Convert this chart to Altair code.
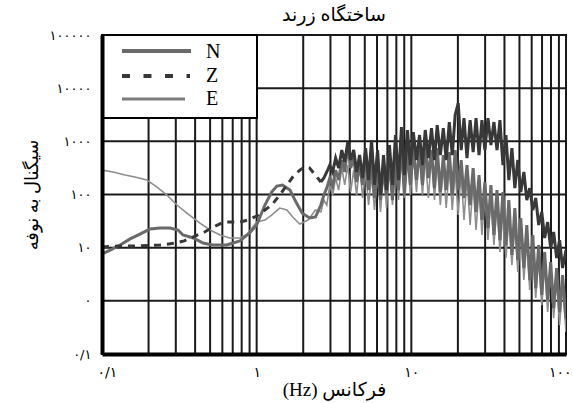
import altair as alt
import pandas as pd

title_text = "ساختگاه زرند"
x_title = "(Hz) فرکانس"
y_title = "سیگنال به نوفه"

# tick values and their (Persian) labels
x_tick_values = [0.1, 1, 10, 100]
x_tick_labels = ["۰/۱", "۱", "۱۰", "۱۰۰"]
y_tick_values = [0.1, 1, 10, 100, 1000, 10000, 100000]
y_tick_labels = ["۰/۱", "۰", "۱۰", "۱۰۰", "۱۰۰۰", "۱۰۰۰۰", "۱۰۰۰۰۰"]

# grid lines
x_grid = [0.1, 0.2, 0.3, 0.4, 0.5, 0.6, 0.7, 0.8, 0.9,
          1, 2, 3, 4, 5, 6, 7, 8, 9,
          10, 20, 30, 40, 50, 60, 70, 80, 90, 100]
y_grid = [0.1, 1, 10, 100, 1000, 10000, 100000]

# low-frequency parts of the three components
freq_N_low = [0.1, 0.113, 0.131, 0.152, 0.176, 0.204, 0.237, 0.275, 0.31, 0.334,
              0.39, 0.45, 0.52, 0.64, 0.78, 0.90, 1.0, 1.13, 1.25, 1.35,
              1.47, 1.64, 1.81, 1.97, 2.2, 2.4]
val_N_low = [7.6, 9.0, 11.2, 14.6, 18.0, 22.4, 23.4, 23.4, 21.5, 17.3,
             15.2, 12.2, 11.2, 11.2, 13.4, 18.9, 26.7, 63.4, 111, 144,
             151, 121, 69, 44.6, 36.1, 37.7]

freq_E_low = [0.1, 0.118, 0.141, 0.163, 0.195, 0.227, 0.263, 0.305, 0.354, 0.43,
              0.50, 0.58, 0.67, 0.78, 0.87, 1.0, 1.13, 1.25, 1.41, 1.57,
              1.71, 1.9, 2.15, 2.4]
val_E_low = [288, 265, 232, 213, 187, 138, 97.7, 63.4, 44.8, 29,
             21.5, 17.3, 15.2, 15.2, 18.0, 30.3, 33.1, 41.1, 55.6, 51.0,
             37.7, 27.9, 33.1, 51.0]

freq_Z_low = [0.1, 0.131, 0.176, 0.237, 0.30, 0.34, 0.40, 0.46, 0.54, 0.61,
              0.69, 0.78, 0.88, 1.0, 1.13, 1.25, 1.41, 1.57, 1.71, 1.9,
              2.05, 2.2, 2.4]
val_Z_low = [10.3, 10.8, 10.8, 11.2, 12.2, 13.4, 16.5, 19.7, 25.5, 30.3,
             30.3, 30.3, 33.1, 39.3, 51.0, 63.4, 97.7, 151, 213, 288,
             329, 315, 232]

# high-frequency (noisy) parts, shared frequency samples
freq_hi = [2.6, 2.72, 2.84, 2.97, 3.1, 3.24, 3.39, 3.55, 3.71, 3.88,
           4.05, 4.24, 4.43, 4.63, 4.84, 5.06, 5.29, 5.53, 5.78, 6.05,
           6.32, 6.61, 6.91, 7.22, 7.55, 7.9, 8.26, 8.63, 9.02, 9.43,
           9.86, 10.3, 10.8, 11.3, 11.8, 12.3, 12.9, 13.5, 14.1, 14.7,
           15.4, 16.1, 16.8, 17.6, 18.4, 19.2, 20.1, 21.0, 21.9, 22.9,
           24.0, 25.1, 26.2, 27.4, 28.6, 29.9, 31.3, 32.7, 34.2, 35.8,
           37.4, 39.1, 40.9, 42.7, 44.7, 46.7, 48.8, 51.0, 53.4, 55.8,
           58.3, 61.0, 63.7, 66.6, 69.7, 72.8, 76.1, 79.6, 83.2, 87.0,
           90.9, 95.0, 100]
val_N_hi = [63.4, 97.7, 132, 204, 144, 288, 187, 445, 265, 852,
            315, 485, 172, 358, 151, 629, 121, 445, 85.8, 265,
            78.7, 315, 97.7, 445, 78.7, 552, 121, 852, 97.7, 686,
            151, 748, 187, 686, 151, 970, 204, 686, 132, 748,
            111, 552, 121, 629, 97.7, 686, 121, 445, 85.8, 358,
            63.4, 315, 46.8, 232, 33.1, 172, 23.4, 151, 17.3, 121,
            13.9, 111, 11.2, 78.7, 7.3, 55.6, 5.85, 36.1, 4.14, 26.7,
            2.46, 17.3, 1.74, 11.2, 1.29, 8.3, 1.04, 5.37, 0.73, 4.14,
            0.62, 3.06, 0.47]
val_E_hi = [46.8, 78.7, 63.4, 151, 97.7, 204, 121, 315, 151, 358,
            111, 288, 97.7, 408, 85.8, 288, 63.4, 232, 51.0, 265,
            46.8, 288, 55.6, 358, 63.4, 445, 78.7, 552, 85.8, 629,
            97.7, 552, 111, 686, 97.7, 485, 85.8, 552, 78.7, 408,
            63.4, 358, 55.6, 315, 51.0, 288, 41.1, 265, 33.1, 204,
            26.7, 172, 21.5, 132, 17.3, 97.7, 13.9, 85.8, 11.2, 63.4,
            8.3, 51.0, 6.4, 36.1, 4.71, 26.7, 3.48, 19.7, 2.46, 13.9,
            1.60, 9.0, 1.13, 6.4, 0.83, 4.71, 0.62, 3.48, 0.47, 2.46,
            0.35, 1.98, 0.26]
val_Z_hi = [172, 204, 265, 358, 265, 485, 315, 686, 408, 970,
            445, 686, 265, 552, 204, 748, 187, 1057, 151, 686,
            97.7, 552, 121, 852, 151, 1313, 187, 1857, 232, 1631,
            358, 1495, 445, 1313, 358, 1631, 485, 1778, 445, 2025,
            552, 1778, 445, 2306, 552, 3122, 5252, 686, 2742, 485,
            2515, 629, 2742, 552, 2515, 686, 2742, 852, 2306, 686,
            2515, 358, 1313, 187, 748, 132, 445, 111, 265, 78.7,
            132, 51.0, 85.8, 26.7, 46.8, 15.2, 30.3, 9.8, 19.7, 6.4,
            13.9, 4.14, 9.0]

colors = {"N": "#6a6a6a", "Z": "#383838", "E": "#8e8e8e"}

df_N = pd.DataFrame({"f": freq_N_low + freq_hi, "v": val_N_low + val_N_hi})
df_E = pd.DataFrame({"f": freq_E_low + freq_hi, "v": val_E_low + val_E_hi})
df_Z_low = pd.DataFrame({"f": freq_Z_low + freq_hi[:1], "v": val_Z_low + val_Z_hi[:1]})
df_Z_hi = pd.DataFrame({"f": freq_hi, "v": val_Z_hi})

xscale = alt.Scale(type="log", domain=[0.1, 100], nice=False)
yscale = alt.Scale(type="log", domain=[0.1, 100000], nice=False)

def expr_for(labels):
    arr = "[" + ",".join("'" + s + "'" for s in labels) + "]"
    return arr + "[round(log(datum.value)/LN10)+1]"

arabic_font = "Liberation Serif, DejaVu Sans"

xaxis = alt.Axis(values=x_tick_values, labelExpr=expr_for(x_tick_labels),
                 title=x_title, grid=False, ticks=False, tickSize=0,
                 domainColor="black", domainWidth=4,
                 labelFont="DejaVu Sans", labelFontSize=14, labelColor="black",
                 labelPadding=11, labelFlush=True, labelFlushOffset=5,
                 titleFont=arabic_font, titleFontSize=19, titleFontWeight="normal",
                 titleColor="black", titlePadding=1, zindex=1)
yaxis = alt.Axis(values=y_tick_values, labelExpr=expr_for(y_tick_labels),
                 title=y_title, grid=False, ticks=False, tickSize=0,
                 domainColor="black", domainWidth=4,
                 labelFont="DejaVu Sans", labelFontSize=13, labelColor="black",
                 labelPadding=11, labelFlush=False,
                 titleFont=arabic_font, titleFontSize=18, titleFontWeight="normal",
                 titleColor="black", titlePadding=8, zindex=1)

def X(field):
    return alt.X(field, type="quantitative", scale=xscale, axis=xaxis)

def Y(field):
    return alt.Y(field, type="quantitative", scale=yscale, axis=yaxis)

vgrid = alt.Chart(pd.DataFrame({"gx": x_grid})).mark_rule(
    color="#1a1a1a", strokeWidth=2).encode(x=X("gx"))
hgrid = alt.Chart(pd.DataFrame({"gy": y_grid})).mark_rule(
    color="#1a1a1a", strokeWidth=2).encode(y=Y("gy"))

line_E = alt.Chart(df_E).mark_line(color=colors["E"], strokeWidth=1.6, clip=True).encode(
    x=X("f"), y=Y("v"), order="f:Q")
line_N = alt.Chart(df_N).mark_line(color=colors["N"], strokeWidth=3, clip=True).encode(
    x=X("f"), y=Y("v"), order="f:Q")
line_Z_low = alt.Chart(df_Z_low).mark_line(color=colors["Z"], strokeWidth=3,
                                           strokeDash=[7, 6], clip=True).encode(
    x=X("f"), y=Y("v"), order="f:Q")
line_Z_hi = alt.Chart(df_Z_hi).mark_line(color=colors["Z"], strokeWidth=3, clip=True).encode(
    x=X("f"), y=Y("v"), order="f:Q")

# legend box (drawn by hand)
one = pd.DataFrame({"k": [0]})
leg_box = alt.Chart(one).mark_rect(fill="white", stroke="black", strokeWidth=2).encode(
    x=alt.value(0), x2=alt.value(155), y=alt.value(0), y2=alt.value(83))
leg_N = alt.Chart(one).mark_rule(color=colors["N"], strokeWidth=4).encode(
    x=alt.value(20), x2=alt.value(89), y=alt.value(16))
leg_Z = alt.Chart(one).mark_rule(color=colors["Z"], strokeWidth=4, strokeDash=[8, 13.5]).encode(
    x=alt.value(20), x2=alt.value(88), y=alt.value(41))
leg_E = alt.Chart(one).mark_rule(color="#7c7c7c", strokeWidth=3).encode(
    x=alt.value(20), x2=alt.value(83), y=alt.value(64))
legend_names = ["N", "Z", "E"]
leg_texts = []
for name, yy in zip(legend_names, [17, 41, 64]):
    leg_texts.append(alt.Chart(one).mark_text(
        text=name, font="Liberation Serif", fontSize=20, align="left",
        baseline="middle", color="black").encode(x=alt.value(104), y=alt.value(yy)))

chart = alt.layer(
    vgrid, hgrid, line_E, line_N, line_Z_low, line_Z_hi,
    leg_box, leg_N, leg_Z, leg_E, *leg_texts
).properties(
    width=464, height=319,
    title=alt.Title(title_text, font=arabic_font, fontSize=19, fontWeight="normal",
                    anchor="middle", offset=4, color="black"),
    autosize=alt.AutoSizeParams(type="none"),
    padding={"left": 102, "top": 35, "right": 7, "bottom": 49},
    background="white",
).configure_view(stroke="black", strokeWidth=2)

chart.save("out.html", embed_options={"renderer": "svg", "actions": False})
